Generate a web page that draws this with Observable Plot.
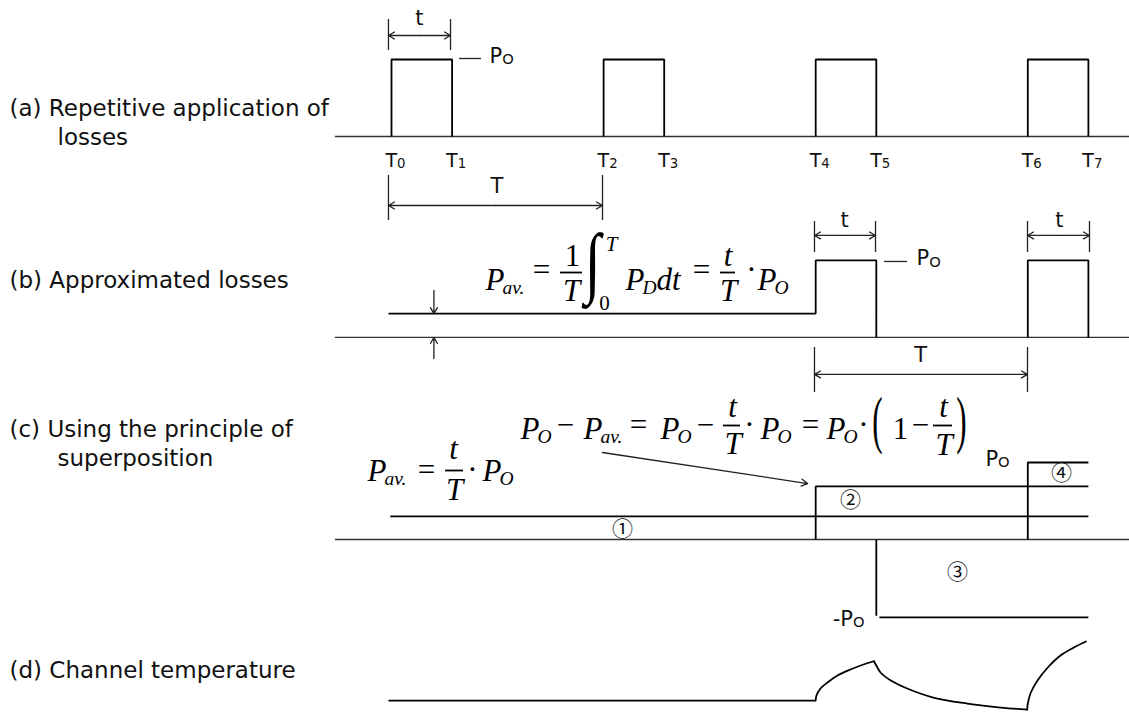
<!DOCTYPE html>
<html><head><meta charset="utf-8">
<script src="https://cdn.jsdelivr.net/npm/d3@7"></script>
<script src="https://cdn.jsdelivr.net/npm/@observablehq/plot@0.6"></script>
<style>html,body{margin:0;padding:0;background:#fff;overflow:hidden}</style>
</head><body><div id="chart"></div>
<script>
// ---------------- data (time in units of the pulse width t, levels in units of P_O) ----------------
const edgeTimes = [0, 1, 3.5, 4.5, 7, 8, 10.5, 11.5];          // T0 … T7
const edgeIndex = ["0", "1", "2", "3", "4", "5", "6", "7"];
const pulsePairsA = [[0, 1], [3.5, 4.5], [7, 8], [10.5, 11.5]];  // (a) pulses
const pulseLevel = 1;        // P_O
const avgLevelB = 0.31;      // P_av. as drawn in (b)
const avgLevelC = 0.30;      // ① in (c)
const levelTwoTop = 0.69;    // top of ②
const levelFourTop = 1.0;    // top of ④
const levelThree = -1.0;     // ③  (−P_O)
const tempBefore = [[-0.05, 0], [7, 0]];
const tempRise1 = [[7.0, 0], [7.013, 0.065], [7.079, 0.156], [7.195, 0.234], [7.36, 0.325], [7.574, 0.403], [7.789, 0.468], [7.96, 0.51]];
const tempFall = [[7.96, 0.51], [8.0, 0.455], [8.07, 0.364], [8.24, 0.26], [8.51, 0.156], [8.94, 0.039], [9.5, -0.039], [10.05, -0.091], [10.49, -0.117]];
const tempRise2 = [[10.49, -0.117], [10.5, -0.039], [10.55, 0.104], [10.66, 0.26], [10.83, 0.429], [11.04, 0.584], [11.26, 0.688], [11.46, 0.766]];
const panelTexts = ["(a) Repetitive application of", "losses", "(b) Approximated losses", "(c) Using the principle of", "superposition", "(d) Channel temperature"];
const circled = ["①", "②", "③", "④"];

// ---------------- layout ----------------
const W = 1129, H = 719;
const X0 = 391, KX = 60.6, Y0 = 136, KY = 77;
const px = X => (X - X0) / KX;      // pixel -> time (annotation layout only)
const py = Y => (Y0 - Y) / KY;      // pixel -> level
const base = {a: 0, b: -2.61, c: -5.234, d: -7.325};
const axisStart = -0.925;

// waveforms
const wave = [];
let id = 0;
const addLine = (panel, pts) => { id++; pts.forEach(([x, y]) => wave.push({id, x, y: base[panel] + y})); };
pulsePairsA.forEach(([s, e]) => addLine("a", [[s, 0], [s, pulseLevel], [e, pulseLevel], [e, 0]]));
addLine("b", [[-0.05, avgLevelB], [edgeTimes[4], avgLevelB], [edgeTimes[4], pulseLevel], [edgeTimes[5], pulseLevel], [edgeTimes[5], 0]]);
addLine("b", [[edgeTimes[6], 0], [edgeTimes[6], pulseLevel], [edgeTimes[7], pulseLevel], [edgeTimes[7], 0]]);
addLine("c", [[-0.02, avgLevelC], [edgeTimes[7], avgLevelC]]);
addLine("c", [[edgeTimes[4], 0], [edgeTimes[4], levelTwoTop], [edgeTimes[7], levelTwoTop]]);
addLine("c", [[edgeTimes[6], 0], [edgeTimes[6], levelFourTop], [edgeTimes[7], levelFourTop]]);
addLine("c", [[edgeTimes[5], 0], [edgeTimes[5], levelThree + 0.01]]);
addLine("c", [[edgeTimes[5] + 0.05, levelThree - 0.01], [edgeTimes[7], levelThree - 0.01]]);
addLine("d", tempBefore);
const temp = [];
[tempRise1, tempFall, tempRise2].forEach((pts, k) => pts.forEach(([x, y]) => temp.push({k, x, y: base.d + y})));

// dimension arrows
const dims = [
  {p: "a", x1: -0.05, x2: 0.974, y: 1.312, lo: 1.117, hi: 1.519, label: "t", lx: 0.46, ly: 1.442},
  {p: "a", x1: -0.05, x2: 3.482, y: -0.896, lo: -0.506, hi: -1.091, label: "T", lx: 1.74, ly: -0.74},
  {p: "b", x1: 6.98, x2: 7.987, y: 1.325, lo: 1.104, hi: 1.506, label: "t", lx: 7.475, ly: 1.429},
  {p: "b", x1: 10.495, x2: 11.518, y: 1.325, lo: 1.104, hi: 1.506, label: "t", lx: 11.02, ly: 1.429},
  {p: "b", x1: 6.98, x2: 10.495, y: -0.48, lo: -0.13, hi: -0.714, label: "T", lx: 8.73, ly: -0.325}
];
const ticks = dims.flatMap(d => [d.x1, d.x2].map(x => ({x, y1: base[d.p] + d.lo, y2: base[d.p] + d.hi})));
const arrows = dims.flatMap(d => {
  const m = (d.x1 + d.x2) / 2, y = base[d.p] + d.y;
  return [{x1: m, y1: y, x2: d.x1, y2: y}, {x1: m, y1: y, x2: d.x2, y2: y}];
});
// P_av. height marker in (b), pointer in (c)
arrows.push({x1: 0.70, y1: base.b + 0.61, x2: 0.70, y2: base.b + avgLevelB});
arrows.push({x1: 0.70, y1: base.b - 0.273, x2: 0.70, y2: base.b});
arrows.push({x1: 3.48, y1: base.c + 1.13, x2: 6.865, y2: base.c + 0.727});

const dashes = [{p: "a", x1: 1.122, x2: 1.485, y: 1.013}, {p: "b", x1: 8.135, x2: 8.515, y: 0.987}];
const poLabels = [{t: "P_{O}", x: 1.617, y: base.a + 0.961}, {t: "P_{O}", x: 8.663, y: base.b + 0.935}, {t: "P_{O}", x: 9.80, y: base.c + 0.96}];
const circledPos = [[3.81, 0.13], [7.574, 0.506], [9.34, -0.429], [11.056, 0.857]].map(([x, y], i) => ({t: circled[i], x, y: base.c + y}));
const panelPos = [[9, 115], [57, 144], [9, 287], [9, 436], [57, 465], [9, 677]].map(([X, Y], i) => ({t: panelTexts[i], x: px(X), y: py(Y)}));

// formulas (annotation layout in pixels: text, x, y)
const itStart = [["P_{av.}", 485, 289], ["P_{D}dt", 625, 289], ["P_{O}", 757, 289],
  ["P_{O}", 520, 438], ["P_{av.}", 583, 438], ["P_{O}", 660, 438], ["P_{O}", 760, 438], ["P_{O}", 826, 438],
  ["P_{av.}", 367, 480], ["P_{O}", 482, 480]];
const itMid = [["T", 571, 300], ["t", 727.5, 265], ["T", 728, 300], ["t", 732, 416], ["T", 732.5, 453],
  ["t", 943, 416], ["T", 943.5, 454], ["t", 453, 458], ["T", 454, 499]];
const upMid = [["1", 572, 265], ["1", 900, 438]];
const ops = [["=", 541, 272], ["=", 701, 272], ["·", 751, 272], ["−", 565, 427], ["=", 638, 427], ["−", 705, 427],
  ["·", 749, 427], ["=", 810, 427], ["·", 863, 427], ["−", 920, 427], ["=", 426, 472], ["·", 472, 472]];
const bars = [[560, 582, 272], [720, 735, 272], [723, 740, 425], [933, 952, 425], [445, 463, 470]];
const P = a => a.map(([t, X, Y]) => ({t, x: px(X), y: py(Y)}));
const serif = "'Liberation Serif', 'DejaVu Serif', serif";

const chart = Plot.plot({
  width: W, height: H, margin: 0,
  x: {domain: [px(0), px(W)], axis: null},
  y: {domain: [py(H), py(0)], axis: null},
  style: {background: "#fff", fontFamily: "'DejaVu Sans', sans-serif", color: "#000"},
  marks: [
    Plot.ruleY(["a", "b", "c"], {y: p => base[p], x1: axisStart, x2: px(W), stroke: "#333", strokeWidth: 1.3}),
    Plot.line(wave, {x: "x", y: "y", z: "id", stroke: "#000", strokeWidth: 1.8, strokeLinejoin: "miter", strokeLinecap: "butt"}),
    Plot.line(temp, {x: "x", y: "y", z: "k", curve: "catmull-rom", stroke: "#000", strokeWidth: 1.8}),
    Plot.ruleX(ticks, {x: "x", y1: "y1", y2: "y2", stroke: "#222", strokeWidth: 1.3}),
    Plot.arrow(arrows, {x1: "x1", y1: "y1", x2: "x2", y2: "y2", stroke: "#222", strokeWidth: 1.3, headLength: 8}),
    Plot.ruleY(dashes, {y: d => base[d.p] + d.y, x1: "x1", x2: "x2", stroke: "#222", strokeWidth: 1.3}),
    Plot.text(dims, {x: "lx", y: d => base[d.p] + d.ly, text: "label", fontSize: 21, lineAnchor: "bottom", fill: "#111"}),
    Plot.text(edgeTimes, {x: d => d, y: base.a - 0.39, text: (d, i) => "T_{" + edgeIndex[i] + "}", dx: 4, fontSize: 19, lineAnchor: "bottom", fill: "#111"}),
    Plot.text(poLabels, {x: "x", y: "y", text: "t", textAnchor: "start", fontSize: 21, lineAnchor: "bottom", fill: "#111"}),
    Plot.text([{t: "-P_{O}", x: 7.805, y: base.c - 1.117}], {x: "x", y: "y", text: "t", textAnchor: "end", fontSize: 21, lineAnchor: "bottom", fill: "#111"}),
    Plot.text(circledPos, {x: "x", y: "y", text: "t", fontSize: 21, fontFamily: "'Noto Sans CJK JP', 'DejaVu Sans'", fill: "#111"}),
    Plot.text(panelPos, {x: "x", y: "y", text: "t", textAnchor: "start", lineAnchor: "bottom", fontSize: 23, fill: "#111"}),
    // formulas
    Plot.text(P(itStart), {x: "x", y: "y", text: "t", textAnchor: "start", lineAnchor: "bottom", fontSize: 31, fontStyle: "italic", fontFamily: serif}),
    Plot.text(P(itMid), {x: "x", y: "y", text: "t", lineAnchor: "bottom", fontSize: 31, fontStyle: "italic", fontFamily: serif}),
    Plot.text(P(upMid), {x: "x", y: "y", text: "t", lineAnchor: "bottom", fontSize: 31, fontFamily: serif}),
    Plot.text(P(ops), {x: "x", y: "y", text: "t", dy: -2, fontSize: 31, fontFamily: serif}),
    Plot.ruleY(bars.map(([a, b, Y]) => ({y: py(Y), x1: px(a), x2: px(b)})), {y: "y", x1: "x1", x2: "x2", stroke: "#000", strokeWidth: 1.8}),
    Plot.text(P([["T", 611, 250]]), {x: "x", y: "y", text: "t", lineAnchor: "bottom", fontSize: 21, fontStyle: "italic", fontFamily: serif}),
    Plot.text(P([["0", 604, 309]]), {x: "x", y: "y", text: "t", lineAnchor: "bottom", fontSize: 21, fontFamily: serif}),
    Plot.text(P([["∫", 592, 262]]), {x: "x", y: "y", text: "t", fontSize: 56, fontFamily: serif}),
    Plot.text(P([["(", 877, 420], [")", 961, 420]]), {x: "x", y: "y", text: "t", fontSize: 31, fontFamily: serif})
  ]
});
document.getElementById("chart").appendChild(chart);

// turn "X_{sub}" into real subscripts; stretch the big delimiters
const NS = "http://www.w3.org/2000/svg";
const stretch = {"(": [1, 2.05], ")": [1, 2.05], "∫": [1.05, 1.4]};
chart.querySelectorAll("text").forEach(t => {
  const s = t.textContent;
  if (stretch[s]) {
    const [sx, sy] = stretch[s];
    const tr = t.getAttribute("transform");
    if (tr) t.setAttribute("transform", tr + ` scale(${sx},${sy})`);
    else {
      const x = +t.getAttribute("x") || 0, y = +t.getAttribute("y") || 0;
      t.setAttribute("transform", `translate(${x},${y}) scale(${sx},${sy}) translate(${-x},${-y})`);
    }
    return;
  }
  if (!s.includes("_{")) return;
  const cs = getComputedStyle(t);
  const fs = parseFloat(cs.fontSize);
  const italic = cs.fontStyle === "italic";
  const subSize = fs * (italic ? 0.63 : 0.7);
  const shift = fs * (italic ? 0.15 : 0.08);
  const parts = s.split(/(_\{[^}]*\})/).filter(Boolean);
  t.textContent = "";
  let down = false;
  for (const p of parts) {
    const ts = document.createElementNS(NS, "tspan");
    if (p.startsWith("_{")) {
      ts.textContent = p.slice(2, -1);
      ts.setAttribute("font-size", subSize);
      ts.setAttribute("dy", shift);
      if (italic) ts.setAttribute("dx", -2);
      down = true;
    } else {
      ts.textContent = p;
      if (down) { ts.setAttribute("dy", -shift); down = false; }
    }
    t.appendChild(ts);
  }
});
</script>
</body></html>
